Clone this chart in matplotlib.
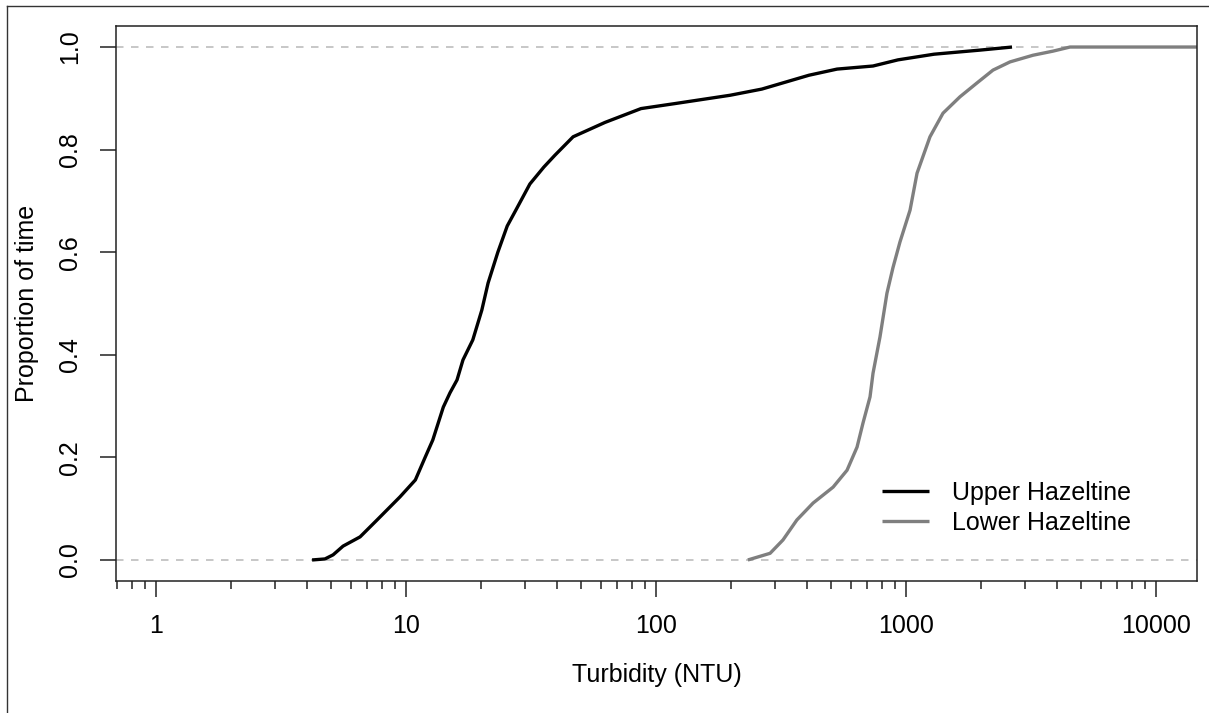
import matplotlib
matplotlib.use("Agg")
import matplotlib.pyplot as plt
from matplotlib.lines import Line2D
import numpy as np

# ---- data ----
upper_turbidity = [4.21, 4.74, 5.11, 5.60, 6.55, 7.66, 9.46, 10.9, 11.9, 12.8, 14.1, 15.0,
                   16.0, 16.9, 18.5, 20.1, 21.3, 23.3, 25.4, 27.5, 31.3, 35.6, 39.4, 46.6,
                   62.5, 87.1, 120, 198, 265, 409, 530, 738, 929, 1294, 1977, 2655]
upper_prop = [0.0, 0.002, 0.010, 0.027, 0.045, 0.078, 0.123, 0.156, 0.199, 0.234, 0.298, 0.326,
              0.351, 0.390, 0.429, 0.487, 0.540, 0.600, 0.651, 0.682, 0.733, 0.766, 0.789, 0.825,
              0.853, 0.880, 0.890, 0.906, 0.918, 0.945, 0.957, 0.963, 0.975, 0.986, 0.994, 1.0]

lower_turbidity = [233, 286, 322, 366, 425, 511, 581, 637, 673, 718, 738, 787, 839, 887,
                   946, 1038, 1107, 1247, 1406, 1644, 1923, 2228, 2606, 3221, 3873, 4529, 20000]
lower_prop = [0.0, 0.013, 0.039, 0.078, 0.111, 0.142, 0.175, 0.220, 0.267, 0.318, 0.364, 0.435,
              0.520, 0.570, 0.620, 0.682, 0.754, 0.825, 0.871, 0.903, 0.930, 0.955, 0.971,
              0.984, 0.992, 1.0, 1.0]

series_labels = ["Upper Hazeltine", "Lower Hazeltine"]
x_major_ticks = [1, 10, 100, 1000, 10000]
x_tick_labels = ["1", "10", "100", "1000", "10000"]
y_ticks = [0.0, 0.2, 0.4, 0.6, 0.8, 1.0]
y_tick_labels = ["0.0", "0.2", "0.4", "0.6", "0.8", "1.0"]

plt.rcParams['font.family'] = ['Liberation Sans', 'DejaVu Sans']

W, H = 1209, 713
fig = plt.figure(figsize=(W / 100, H / 100), dpi=100)
ax = fig.add_axes([116 / W, 1 - 581 / H, (1197 - 116) / W, (581 - 26) / H])

# reference lines
for yv in (0.0, 1.0):
    ax.axhline(yv, color="#BEBEBE", lw=1.2, dashes=(4.5, 4.5), zorder=1)

ax.plot(upper_turbidity, upper_prop, color="black", lw=2.4, solid_capstyle="butt",
        label=series_labels[0], zorder=3)
ax.plot(lower_turbidity, lower_prop, color="#7F7F7F", lw=2.4, solid_capstyle="butt",
        label=series_labels[1], zorder=2)

ax.set_xscale("log")
ax.set_xlim(10 ** (-40 / 250), 10 ** ((1197 - 156) / 250))
ax.set_ylim(-0.041, 1.041)

ax.set_xticks(x_major_ticks)
ax.set_xticklabels(x_tick_labels)
minor = [m * 10.0 ** e for e in range(-1, 5) for m in range(2, 10)]
minor = [v for v in minor if 0.69 < v < 14500]
ax.set_xticks(minor, minor=True)
ax.set_xticklabels([], minor=True)
ax.set_yticks(y_ticks)
ax.set_yticklabels(y_tick_labels, rotation=90, va="center")

for s in ax.spines.values():
    s.set_linewidth(1.1)
    s.set_color("#222222")
ax.tick_params(axis="both", which="major", direction="out", length=11.5, width=1.1,
               color="#222222", labelsize=18, pad=12)
ax.tick_params(axis="x", which="minor", direction="out", length=5.8, width=1.1,
               color="#222222")
ax.tick_params(axis="y", which="major", pad=13)

ax.set_xlabel("Turbidity (NTU)", fontsize=18, labelpad=18)
ax.set_ylabel("Proportion of time", fontsize=18, labelpad=14)

leg = ax.legend(loc="center left", bbox_to_anchor=(882 / W, 1 - 508 / H),
                bbox_transform=fig.transFigure, frameon=False, fontsize=18,
                borderpad=0, borderaxespad=0, handlelength=1.88, handletextpad=0.92,
                labelspacing=0.24)

# partial outer frame (top and left)
fig.add_artist(Line2D([7 / W, 1.0], [1 - 5.5 / H, 1 - 5.5 / H], transform=fig.transFigure,
                      color="#333333", lw=1.0))
fig.add_artist(Line2D([7 / W, 7 / W], [0.0, 1 - 5.5 / H], transform=fig.transFigure,
                      color="#333333", lw=1.0))

fig.savefig("out.png", dpi=100)
